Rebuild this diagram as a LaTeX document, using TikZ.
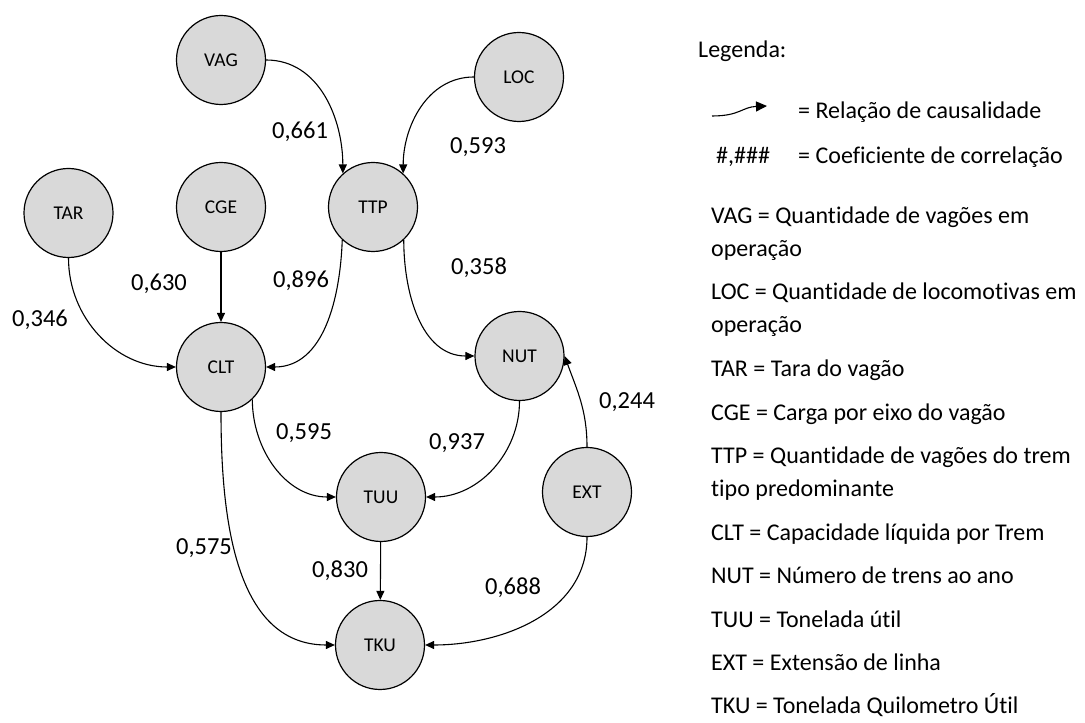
\documentclass[tikz,border=0pt]{standalone}
\usepackage{fontspec}
\setmainfont{Carlito}[Ligatures={NoCommon}]
\usetikzlibrary{arrows.meta}
\definecolor{nodegray}{HTML}{D9D9D9}
\tikzset{
  var/.style={circle, draw=black, line width=1.2pt, fill=nodegray,
    minimum size=89pt, inner sep=0pt, font=\fontsize{19.5}{22}\selectfont},
  link/.style={draw, line width=1.1pt, -{Triangle[length=9pt,width=8pt]}},
  coef/.style={inner sep=0pt, text height=15.5pt, text depth=0pt,
    font=\fontsize{24.5}{29}\selectfont},
  legtext/.style={inner sep=0pt, anchor=west, text height=15.5pt,
    text depth=0pt, font=\fontsize{24}{29}\selectfont},
}
\begin{document}
\begin{tikzpicture}[x=1pt,y=1pt]
\useasboundingbox (0,0) rectangle (1085,723);

% variables
\node[var] (VAG) at (221,663) {VAG};
\node[var] (LOC) at (519,646) {LOC};
\node[var] (TAR) at (68.5,510) {TAR};
\node[var] (CGE) at (221,516) {CGE};
\node[var] (TTP) at (373,516) {TTP};
\node[var] (CLT) at (221,356) {CLT};
\node[var] (NUT) at (519.5,367) {NUT};
\node[var] (EXT) at (587,231) {EXT};
\node[var] (TUU) at (381,226) {TUU};
\node[var] (TKU) at (380,78) {TKU};

% causal links
\draw[link] (VAG.east) to[out=0,in=90] (TTP.132);
\draw[link] (LOC.west) to[out=180,in=90] (TTP.48);
\draw[link] (TAR.south) to[out=-90,in=180] (CLT.west);
\draw[link] (CGE) -- (CLT);
\draw[link] (TTP.227) to[out=-92,in=0] (CLT.east);
\draw[link] (TTP.313) to[out=-90,in=180] (NUT.west);
\draw[link] (CLT.314) to[out=-90,in=180] (TUU.west);
\draw[link] (CLT.south) to[out=-90,in=180] (TKU.west);
\draw[link] (TUU) -- (TKU);
\draw[link] (NUT.south) to[out=-90,in=0] (TUU.east);
\draw[link] (EXT.north) to[out=90,in=-70] (NUT.east);
\draw[link] (EXT.south) to[out=-90,in=0] (TKU.east);

% correlation coefficients
\node[coef] (c1) at (300,592) {0,661};
\node[coef] (c2) at (478,577) {0,593};
\node[coef] (c3) at (159,440) {0,630};
\node[coef] (c4) at (301,443) {0,896};
\node[coef] (c5) at (40,404) {0,346};
\node[coef] (c6) at (479,456) {0,358};
\node[coef] (c7) at (627,322) {0,244};
\node[coef] (c8) at (304,291) {0,595};
\node[coef] (c9) at (457,281) {0,937};
\node[coef] (c10) at (204,176) {0,575};
\node[coef] (c11) at (340,153) {0,830};
\node[coef] (c12) at (513,136) {0,688};

% legend
\node[legtext] (lgTitle) at (698,673) {Legenda:};
\coordinate (lgS) at (712,607);
\coordinate (lgE) at (767,617);
\draw[line width=1.1pt, -{Triangle[length=11pt,width=10pt]}]
  (lgS) .. controls (740,607) and (742,616) .. (lgE);
\node[legtext] (lgArrow) at (798,612) {= Relação de causalidade};
\node[legtext] (lgHash) at (716,567) {\#,\#\#\#};
\node[legtext] (lgCoef) at (798,567) {= Coeficiente de correlação};
\node[legtext] (dVAG) at (711,507) {VAG = Quantidade de vagões em};
\node[legtext] (dVAGb) at (711,474) {operação};
\node[legtext] (dLOC) at (711,431) {LOC = Quantidade de locomotivas em};
\node[legtext] (dLOCb) at (711,398) {operação};
\node[legtext] (dTAR) at (711,354) {TAR = Tara do vagão};
\node[legtext] (dCGE) at (711,310) {CGE = Carga por eixo do vagão};
\node[legtext] (dTTP) at (711,267) {TTP = Quantidade de vagões do trem};
\node[legtext] (dTTPb) at (711,234) {tipo predominante};
\node[legtext] (dCLT) at (711,190) {CLT = Capacidade líquida por Trem};
\node[legtext] (dNUT) at (711,147) {NUT = Número de trens ao ano};
\node[legtext] (dTUU) at (711,103) {TUU = Tonelada útil};
\node[legtext] (dEXT) at (711,60) {EXT = Extensão de linha};
\node[legtext] (dTKU) at (711,17) {TKU = Tonelada Quilometro Útil};
\end{tikzpicture}
\end{document}
